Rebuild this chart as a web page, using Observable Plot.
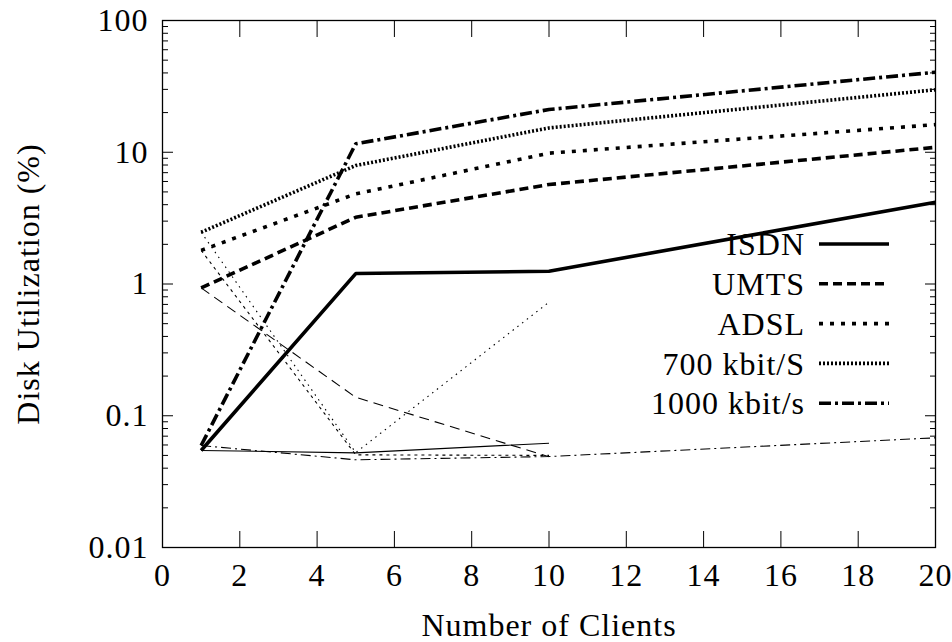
<!DOCTYPE html>
<html>
<head>
<meta charset="utf-8">
<script src="https://cdn.jsdelivr.net/npm/d3@7"></script>
<script src="https://cdn.jsdelivr.net/npm/@observablehq/plot@0.6"></script>
<style>
  body { margin: 0; background: #fff; }
  #chart { width: 952px; height: 642px; }
  #chart svg text { letter-spacing: 1px; }
</style>
</head>
<body>
<div id="chart"></div>
<script>
// Number of clients at which each run was measured
const clients = [1, 5, 10, 20];

// Main runs (disk utilization, %), one value per client count
const series = ["ISDN", "UMTS", "ADSL", "700 kbit/S", "1000 kbit/s"];
const isdn     = [0.0545, 1.20, 1.25, 4.18];
const umts     = [0.935, 3.21, 5.69, 10.9];
const adsl     = [1.80, 4.83, 9.84, 16.2];
const kbit700  = [2.47, 7.93, 15.3, 29.8];
const kbit1000 = [0.0594, 11.6, 21.1, 40.5];

// Secondary runs (drawn thin, not in the key)
const isdnThin     = [0.0545, 0.0523, 0.0619];
const umtsThin     = [0.935, 0.138, 0.0488];
const adslThin     = [1.80, 0.0505, 0.0500];
const kbit700Thin  = [2.47, 0.0525, 0.728];
const kbit1000Thin = [0.0594, 0.0463, 0.0490, 0.0680];

// Axis ticks and labels
const xTicks = [0, 2, 4, 6, 8, 10, 12, 14, 16, 18, 20];
const yTicks = [0.01, 0.1, 1, 10, 100];
const yTickLabels = ["0.01", "0.1", "1", "10", "100"];
const yMinor = yTicks.slice(0, -1).flatMap(d => [2, 3, 4, 5, 6, 7, 8, 9].map(k => k * d));

// Line styles per series
const thickDash = {
  "ISDN": null,
  "UMTS": "9,5",
  "ADSL": "4,7",
  "700 kbit/S": "2,2",
  "1000 kbit/s": "12,4,3,4"
};
const thinDash = {
  "ISDN": null,
  "UMTS": "10,6",
  "ADSL": "3,4",
  "700 kbit/S": "1.5,4.5",
  "1000 kbit/s": "10,4,2,4"
};

const mainValues = [isdn, umts, adsl, kbit700, kbit1000];
const thinValues = [isdnThin, umtsThin, adslThin, kbit700Thin, kbit1000Thin];

const rows = (ys) => ys.map((v, i) => ({x: clients[i], y: v}));

const font = "'Liberation Serif', 'Times New Roman', serif";

const thickLines = series.map((name, i) =>
  Plot.line(rows(mainValues[i]), {
    x: "x", y: "y", stroke: "black", strokeWidth: 3.6,
    strokeDasharray: thickDash[name], strokeLinejoin: "miter", strokeLinecap: "butt"
  }));
const thinLines = series.map((name, i) =>
  Plot.line(rows(thinValues[i]), {
    x: "x", y: "y", stroke: "black", strokeWidth: 1.1,
    strokeDasharray: thinDash[name], strokeLinecap: "butt"
  }));

const blank = () => "";
const yLabel = d => yTickLabels[yTicks.findIndex(t => Math.abs(t - d) < t * 1e-6)];

const plot = Plot.plot({
  width: 952,
  height: 642,
  marginLeft: 162,
  marginRight: 17,
  marginTop: 20,
  marginBottom: 95,
  style: {fontFamily: font, fontSize: "32px", background: "white", color: "black"},
  x: {domain: [0, 20]},
  y: {type: "log", domain: [0.01, 100]},
  marks: [
    ...thinLines,
    ...thickLines,
    Plot.frame({stroke: "black", strokeWidth: 1.3}),
    Plot.axisX(xTicks, {anchor: "bottom", tickSize: -16, tickPadding: 32, tickFormat: d => String(d),
      label: "Number of Clients", labelAnchor: "center", labelOffset: 88, labelArrow: "none"}),
    Plot.axisX(xTicks, {anchor: "top", tickSize: -16, tickFormat: blank, label: null}),
    Plot.axisY(yTicks, {anchor: "left", tickSize: -11, tickPadding: 25, tickFormat: yLabel,
      label: "Disk Utilization (%)", labelAnchor: "center", labelOffset: 146, labelArrow: "none"}),
    Plot.axisY(yTicks, {anchor: "right", tickSize: -11, tickFormat: blank, label: null}),
    Plot.axisY(yMinor, {anchor: "left", tickSize: -6, tickFormat: blank, label: null}),
    Plot.axisY(yMinor, {anchor: "right", tickSize: -6, tickFormat: blank, label: null})
  ]
});

// Key in the lower right of the frame
const svg = d3.select(plot);
const key = svg.append("g").attr("font-family", font).attr("font-size", 32);
series.forEach((name, i) => {
  const y = 244 + i * 39.8;
  key.append("text")
    .attr("x", 805).attr("y", y).attr("dy", "0.35em")
    .attr("text-anchor", "end").attr("fill", "black").text(name);
  key.append("line")
    .attr("x1", 819).attr("x2", 889).attr("y1", y).attr("y2", y)
    .attr("stroke", "black").attr("stroke-width", 3.6)
    .attr("stroke-dasharray", thickDash[name]);
});

document.getElementById("chart").appendChild(plot);
</script>
</body>
</html>
